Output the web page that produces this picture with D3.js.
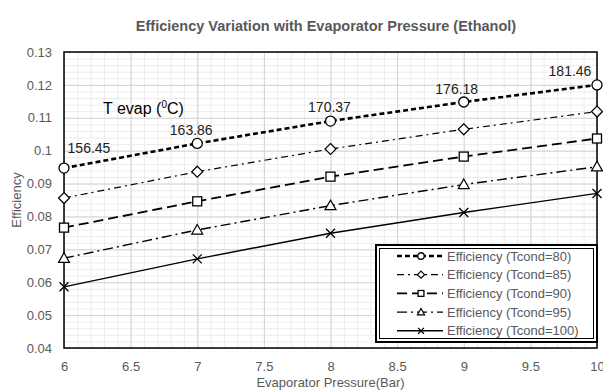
<!DOCTYPE html>
<html>
<head>
<meta charset="utf-8">
<script src="https://cdn.jsdelivr.net/npm/d3@7"></script>
<style>
  body { margin: 0; background: #fff; }
  text { font-family: "Liberation Sans", Arial, sans-serif; }
</style>
</head>
<body>
<div id="chart"></div>
<script>
// data
var pressures = [6, 7, 8, 9, 10];
var tcond = [80, 85, 90, 95, 100];
var eff80 = [0.0947, 0.1022, 0.1090, 0.1148, 0.1200];
var eff85 = [0.0856, 0.0936, 0.1005, 0.1065, 0.1119];
var eff90 = [0.0766, 0.0846, 0.0921, 0.0982, 0.1037];
var eff95 = [0.0673, 0.0759, 0.0833, 0.0897, 0.0951];
var eff100 = [0.0586, 0.0671, 0.0749, 0.0812, 0.0870];
var tevapLabels = ["156.45", "163.86", "170.37", "176.18", "181.46"];
var xTicks = [6, 6.5, 7, 7.5, 8, 8.5, 9, 9.5, 10];
var yTicks = [0.04, 0.05, 0.06, 0.07, 0.08, 0.09, 0.1, 0.11, 0.12, 0.13];

var svgWidth = 603;
var svgHeight = 392;
var margin = { top: 52, right: 6, bottom: 44, left: 64 };
var width = svgWidth - margin.left - margin.right;
var height = svgHeight - margin.top - margin.bottom;

var svg = d3.select("#chart").append("svg")
    .attr("width", svgWidth)
    .attr("height", svgHeight);

var chartGroup = svg.append("g")
    .attr("transform", `translate(${margin.left}, ${margin.top})`);

var x = d3.scaleLinear().domain([6, 10]).range([0, width]);
var y = d3.scaleLinear().domain([0.04, 0.13]).range([height, 0]);

// minor grid
chartGroup.append("g")
    .attr("transform", `translate(0, ${height})`)
    .call(d3.axisBottom(x).tickValues(d3.range(60, 101).map(d => d / 10)).tickSize(-height).tickFormat(""))
    .call(g => g.select(".domain").remove())
    .call(g => g.selectAll("line").attr("stroke", "#ececec"));
chartGroup.append("g")
    .call(d3.axisLeft(y).tickValues(d3.range(20, 66).map(d => d / 500)).tickSize(-width).tickFormat(""))
    .call(g => g.select(".domain").remove())
    .call(g => g.selectAll("line").attr("stroke", "#ececec"));

// major grid
chartGroup.append("g")
    .attr("transform", `translate(0, ${height})`)
    .call(d3.axisBottom(x).tickValues(xTicks).tickSize(-height).tickFormat(""))
    .call(g => g.select(".domain").remove())
    .call(g => g.selectAll("line").attr("stroke", "#d4d4d4"));
chartGroup.append("g")
    .call(d3.axisLeft(y).tickValues(yTicks).tickSize(-width).tickFormat(""))
    .call(g => g.select(".domain").remove())
    .call(g => g.selectAll("line").attr("stroke", "#d4d4d4"));

// plot border
chartGroup.append("rect")
    .attr("width", width)
    .attr("height", height)
    .attr("fill", "none")
    .attr("stroke", "#000")
    .attr("stroke-width", 1.5);

// tick labels
chartGroup.append("g")
    .attr("transform", `translate(0, ${height})`)
    .call(d3.axisBottom(x).tickValues(xTicks).tickSize(0).tickPadding(14).tickFormat(d3.format("")))
    .call(g => g.select(".domain").remove())
    .call(g => g.selectAll("text").attr("fill", "#595959").style("font-size", "13px")
        .style("font-family", "'Liberation Sans', sans-serif"));

chartGroup.append("g")
    .call(d3.axisLeft(y).tickValues(yTicks).tickSize(0).tickPadding(12).tickFormat(d => String(+d.toFixed(2))))
    .call(g => g.select(".domain").remove())
    .call(g => g.selectAll("text").attr("fill", "#595959").style("font-size", "13px")
        .style("font-family", "'Liberation Sans', sans-serif"));

// titles
svg.append("text")
    .attr("x", 326)
    .attr("y", 31)
    .attr("text-anchor", "middle")
    .attr("fill", "#595959")
    .style("font-size", "14.5px")
    .style("font-weight", "bold")
    .text("Efficiency Variation with Evaporator Pressure (Ethanol)");

svg.append("text")
    .attr("x", margin.left + width / 2)
    .attr("y", 387)
    .attr("text-anchor", "middle")
    .attr("fill", "#595959")
    .style("font-size", "13px")
    .text("Evaporator Pressure(Bar)");

svg.append("text")
    .attr("transform", `translate(21, ${margin.top + height / 2}) rotate(-90)`)
    .attr("text-anchor", "middle")
    .attr("fill", "#595959")
    .style("font-size", "13px")
    .text("Efficiency");

// series
var seriesList = [
  { values: eff80, dash: "5,3", sw: 2.6, marker: "circle" },
  { values: eff85, dash: "7,4,2,4", sw: 1.2, marker: "diamond" },
  { values: eff90, dash: "10,5", sw: 1.8, marker: "square" },
  { values: eff95, dash: "10,4,2,4", sw: 1.4, marker: "triangle" },
  { values: eff100, dash: null, sw: 1.4, marker: "cross" }
];

var line = d3.line()
    .x(d => x(d[0]))
    .y(d => y(d[1]));

function drawMarker(g, type, cx, cy, scale) {
  var s = scale || 1;
  if (type === "circle") {
    g.append("circle").attr("cx", cx).attr("cy", cy).attr("r", 5 * s)
      .attr("fill", "#fff").attr("stroke", "#000").attr("stroke-width", 1.3);
  } else if (type === "diamond") {
    var r = 5.5 * s;
    g.append("path").attr("d", `M${cx},${cy - r}L${cx + r},${cy}L${cx},${cy + r}L${cx - r},${cy}Z`)
      .attr("fill", "#fff").attr("stroke", "#000").attr("stroke-width", 1.2);
  } else if (type === "square") {
    var h = 4.5 * s;
    g.append("rect").attr("x", cx - h).attr("y", cy - h).attr("width", 2 * h).attr("height", 2 * h)
      .attr("fill", "#fff").attr("stroke", "#000").attr("stroke-width", 1.3);
  } else if (type === "triangle") {
    var t = 5.5 * s;
    g.append("path").attr("d", `M${cx},${cy - t}L${cx + t},${cy + t * 0.75}L${cx - t},${cy + t * 0.75}Z`)
      .attr("fill", "#fff").attr("stroke", "#000").attr("stroke-width", 1.2);
  } else {
    var c = 4.5 * s;
    g.append("path").attr("d", `M${cx - c},${cy - c}L${cx + c},${cy + c}M${cx - c},${cy + c}L${cx + c},${cy - c}`)
      .attr("fill", "none").attr("stroke", "#000").attr("stroke-width", 1.3);
  }
}

seriesList.forEach(function(s) {
  var pts = pressures.map((p, i) => [p, s.values[i]]);
  chartGroup.append("path")
    .datum(pts)
    .attr("d", line)
    .attr("fill", "none")
    .attr("stroke", "#000")
    .attr("stroke-width", s.sw)
    .attr("stroke-dasharray", s.dash);
  var mg = chartGroup.append("g");
  pts.forEach(p => drawMarker(mg, s.marker, x(p[0]), y(p[1])));
});

// T evap labels above the top series
var labelShift = [[25, -15], [-6, -8], [-1, -9], [-7, -8], [-27, -9]];
chartGroup.selectAll(".tevap")
    .data(tevapLabels)
    .enter()
    .append("text")
    .attr("class", "tevap")
    .attr("x", (d, i) => x(pressures[i]) + labelShift[i][0])
    .attr("y", (d, i) => y(eff80[i]) + labelShift[i][1])
    .attr("text-anchor", "middle")
    .attr("fill", "#222")
    .style("font-size", "14px")
    .text(d => d);

var tev = svg.append("text")
    .attr("x", 103)
    .attr("y", 114)
    .attr("fill", "#000")
    .style("font-size", "16px");
tev.append("tspan").text("T evap (");
tev.append("tspan").attr("dy", -6).style("font-size", "10px").text("0");
tev.append("tspan").attr("dy", 6).text("C)");

// legend
var legend = svg.append("g").attr("transform", "translate(376, 245)");
legend.append("rect")
    .attr("width", 221).attr("height", 97)
    .attr("fill", "#fff").attr("stroke", "#000").attr("stroke-width", 2);
legend.append("rect")
    .attr("x", 3.5).attr("y", 3.5).attr("width", 214).attr("height", 90)
    .attr("fill", "none").attr("stroke", "#000").attr("stroke-width", 1);

seriesList.forEach(function(s, i) {
  var ly = 11 + i * 18.7;
  legend.append("line")
    .attr("x1", 21).attr("x2", 67)
    .attr("y1", ly).attr("y2", ly)
    .attr("stroke", "#000")
    .attr("stroke-width", s.sw)
    .attr("stroke-dasharray", s.dash);
  drawMarker(legend, s.marker, 45, ly, 0.65);
  legend.append("text")
    .attr("x", 71)
    .attr("y", ly + 4.5)
    .attr("fill", "#595959")
    .style("font-size", "13px")
    .text(`Efficiency (Tcond=${tcond[i]})`);
});
</script>
</body>
</html>
